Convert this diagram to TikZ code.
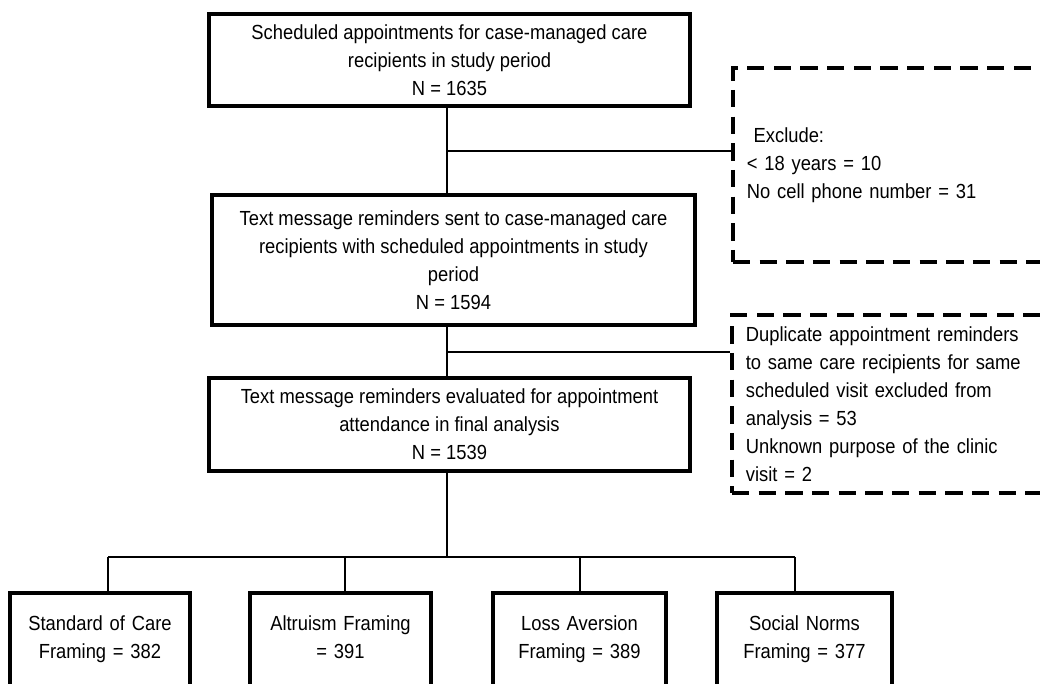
\documentclass[tikz,border=0pt]{standalone}
\usepackage{fontspec}
\setmainfont[FakeStretch=0.9]{Liberation Sans}
\usepackage{tikz}

\begin{document}
\begin{tikzpicture}[x=0.75pt,y=-0.75pt,
  every node/.style={font=\fontsize{15.3}{21}\selectfont},
  box/.style={draw,line width=2.8pt,align=center,inner sep=0pt},
  exbox/.style={draw,line width=2.8pt,dash pattern=on 13pt off 7pt,align=left,
    inner xsep=10.5pt,inner ysep=0pt,anchor=north west,minimum width=239pt,text width=218pt},
  arm/.style={box,anchor=north,text height=28pt,text depth=90pt},
  link/.style={line width=1.2pt}]
  \useasboundingbox (0,0) rectangle (1040,684);
  \clip (0,0) rectangle (1040,684);

  % main column
  \node[box,minimum width=360.75pt,minimum height=69pt] (sched) at (449.5,60)
    {Scheduled appointments for case-managed care\\recipients in study period\\N = 1635};
  \node[box,minimum width=362.25pt,minimum height=97.5pt] (sent) at (453.5,260)
    {Text message reminders sent to case-managed care\\recipients with scheduled appointments in study\\period\\N = 1594};
  \node[box,minimum width=360.75pt,minimum height=69.75pt] (eval) at (449.5,424.5)
    {Text message reminders evaluated for appointment\\attendance in final analysis\\N = 1539};

  % exclusions
  \node[exbox,minimum height=145.5pt] (excl) at (731,66)
    {\ Exclude:\\< 18 years = 10\\No cell phone number = 31};
  \node[exbox,minimum height=133.5pt] (dupl) at (730,313)
    {Duplicate appointment reminders\\to same care recipients for same\\scheduled visit excluded from\\analysis = 53\\Unknown purpose of the clinic\\visit = 2};

  % framing arms
  \foreach \n/\x/\w/\t in {soc/100/135/{Standard of Care\\Framing = 382},
      alt/340.5/135.75/{Altruism Framing\\= 391},
      loss/579.5/129.75/{Loss Aversion\\Framing = 389},
      norms/804.5/131.25/{Social Norms\\Framing = 377}}
    \node[arm,text width=\w pt] (\n) at (\x,591) {\t};

  % connectors
  \coordinate (trunk) at (447,0);
  \coordinate (j1) at (447,151);
  \coordinate (j2) at (447,352);
  \coordinate (bar) at (447,557);
  \draw[link] (trunk |- sched.south) -- (trunk |- sent.north);
  \draw[link] (trunk |- sent.south) -- (trunk |- eval.north);
  \draw[link] (trunk |- eval.south) -- (bar);
  \draw[link] (j1) -- (j1 -| excl.west);
  \draw[link] (j2) -- (j2 -| dupl.west);
  \draw[link] ([xshift=6pt]soc.north |- bar) -- ([xshift=-7.1pt]norms.north |- bar);
  \foreach \n/\dx in {soc/6,alt/3.4,loss/0.4,norms/-7.1}
    \draw[link] ([xshift=\dx pt]\n.north) -- ([xshift=\dx pt]\n.north |- bar);
\end{tikzpicture}
\end{document}
